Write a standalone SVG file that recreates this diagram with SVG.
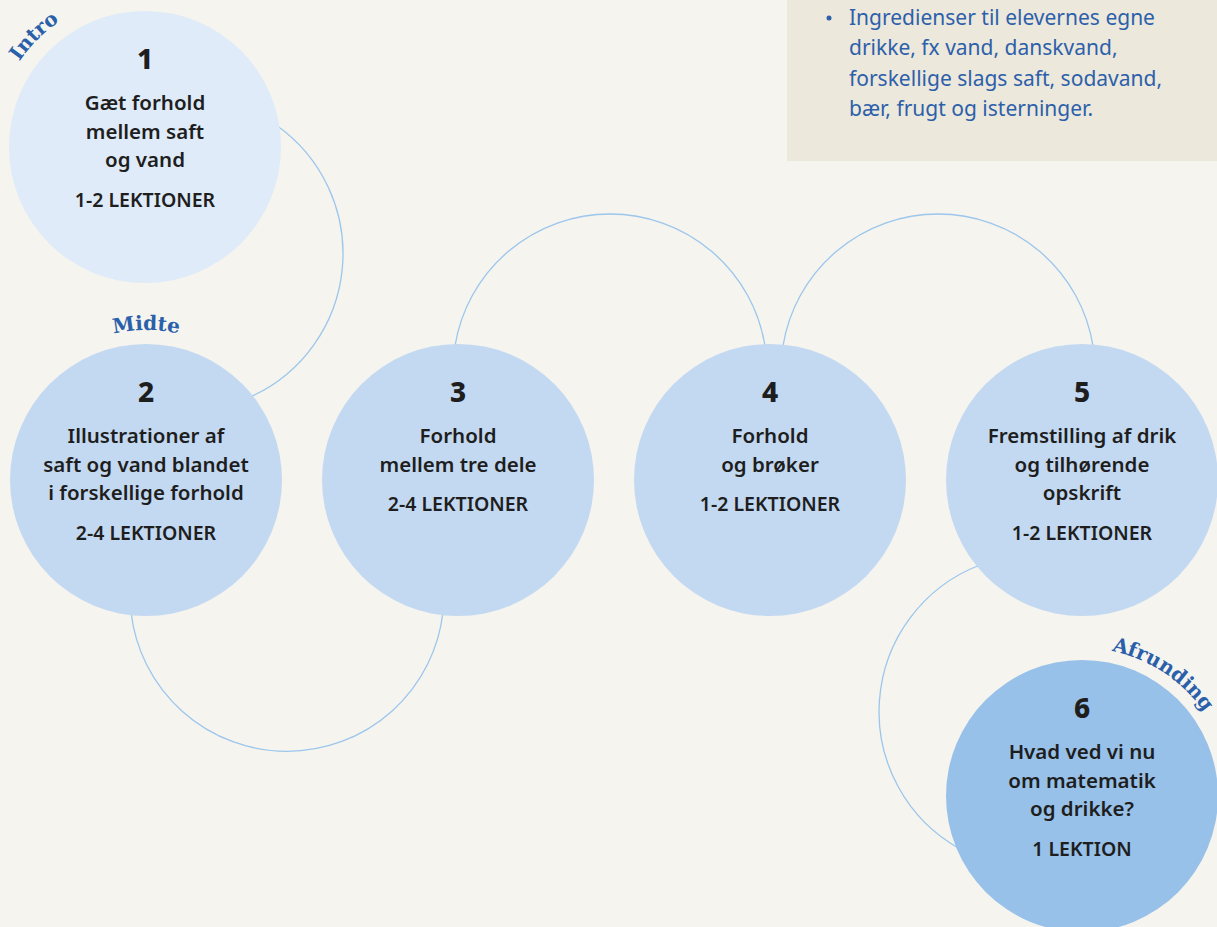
<svg xmlns="http://www.w3.org/2000/svg" width="1217" height="927" viewBox="0 0 1217 927">
<defs>
<style>
.bg{fill:#f5f4ef}
.n1{fill:#dfebf8}
.n{fill:#c3d9f1}
.n6{fill:#97c1e8}
.conn{fill:none;stroke:#9cc6ec;stroke-width:1.3}
.num{font-family:"Noto Sans","Open Sans",sans-serif;font-weight:800;font-size:28px;fill:#1e1e1e;text-anchor:middle}
.t{font-family:"Noto Sans","Open Sans",sans-serif;font-weight:600;font-size:20.5px;fill:#1e1e1e;text-anchor:middle}
.lek{font-family:"Noto Sans","Open Sans",sans-serif;font-weight:600;font-size:19.5px;fill:#1e1e1e;text-anchor:middle}
.lab{font-family:"DejaVu Serif",serif;font-weight:700;font-size:20px;fill:#2a5fa9}
.box{fill:#ede8dc}
.bt{font-family:"Noto Sans","Open Sans",sans-serif;font-size:21px;fill:#2c60aa}
</style>
<path id="p1" d="M -7 147 A 152 152 0 0 1 297 147"/>
<path id="p2" d="M -4 480 A 150 150 0 0 1 296 480"/>
<path id="p6" d="M 934 796 A 148 148 0 0 1 1230 796"/>
</defs>
<rect class="bg" x="0" y="0" width="1217" height="927"/>
<g id="info-box">
<rect class="box" x="787" y="0" width="430" height="161"/>
<circle cx="829" cy="18" r="2.5" fill="#2c60aa"/>
<text class="bt" x="849" y="25">Ingredienser til elevernes egne</text>
<text class="bt" x="849" y="55">drikke, fx vand, danskvand,</text>
<text class="bt" x="849" y="86">forskellige slags saft, sodavand,</text>
<text class="bt" x="849" y="116">bær, frugt og isterninger.</text>
</g>
<g id="connectors">
<path class="conn" d="M 276 125 A 157 157 0 0 1 250 397"/>
<path class="conn" d="M 131 612 A 157 157 0 0 0 443 612"/>
<path class="conn" d="M 455 346 A 157 157 0 0 1 765 346"/>
<path class="conn" d="M 783 346 A 157 157 0 0 1 1093 346"/>
<path class="conn" d="M 980 565 A 157 157 0 0 0 960 849"/>
</g>
<g id="node1">
<circle class="n1" cx="145" cy="147" r="136"/>
<text class="num" x="145" y="69">1</text>
<text class="t" x="145" y="110">Gæt forhold</text>
<text class="t" x="145" y="139">mellem saft</text>
<text class="t" x="145" y="167">og vand</text>
<text class="lek" x="145" y="207">1-2 LEKTIONER</text>
</g>
<g id="node2">
<circle class="n" cx="146" cy="480" r="136"/>
<text class="num" x="146" y="402">2</text>
<text class="t" x="146" y="443">Illustrationer af</text>
<text class="t" x="146" y="472">saft og vand blandet</text>
<text class="t" x="146" y="500">i forskellige forhold</text>
<text class="lek" x="146" y="540">2-4 LEKTIONER</text>
</g>
<g id="node3">
<circle class="n" cx="458" cy="480" r="136"/>
<text class="num" x="458" y="402">3</text>
<text class="t" x="458" y="443">Forhold</text>
<text class="t" x="458" y="472">mellem tre dele</text>
<text class="lek" x="458" y="511">2-4 LEKTIONER</text>
</g>
<g id="node4">
<circle class="n" cx="770" cy="480" r="136"/>
<text class="num" x="770" y="402">4</text>
<text class="t" x="770" y="443">Forhold</text>
<text class="t" x="770" y="472">og brøker</text>
<text class="lek" x="770" y="511">1-2 LEKTIONER</text>
</g>
<g id="node5">
<circle class="n" cx="1082" cy="480" r="136"/>
<text class="num" x="1082" y="402">5</text>
<text class="t" x="1082" y="443">Fremstilling af drik</text>
<text class="t" x="1082" y="472">og tilhørende</text>
<text class="t" x="1082" y="500">opskrift</text>
<text class="lek" x="1082" y="540">1-2 LEKTIONER</text>
</g>
<g id="node6">
<circle class="n6" cx="1082" cy="796" r="136"/>
<text class="num" x="1082" y="718">6</text>
<text class="t" x="1082" y="759">Hvad ved vi nu</text>
<text class="t" x="1082" y="788">om matematik</text>
<text class="t" x="1082" y="816">og drikke?</text>
<text class="lek" x="1082" y="856">1 LEKTION</text>
</g>
<g id="phase-labels">
<text class="lab" text-anchor="middle"><textPath href="#p1" startOffset="119.4">Intro</textPath></text>
<text class="lab" text-anchor="middle"><textPath href="#p2" startOffset="235.6">Midte</textPath></text>
<text class="lab" text-anchor="middle"><textPath href="#p6" startOffset="319">Afrunding</textPath></text>
</g>
</svg>
